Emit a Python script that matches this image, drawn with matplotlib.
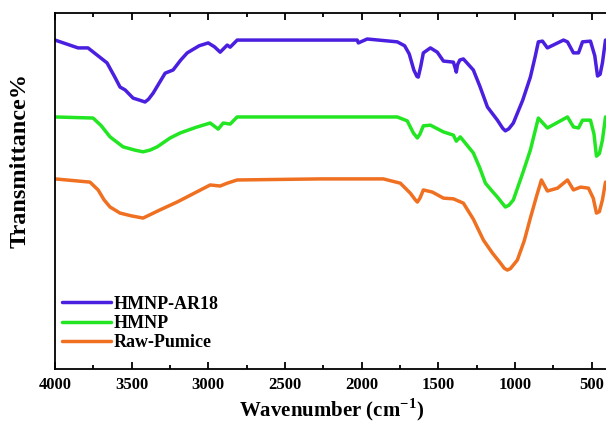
import matplotlib

matplotlib.use("Agg")
import matplotlib.pyplot as plt
from matplotlib.ticker import MultipleLocator

# FTIR spectra (wavenumber cm-1, transmittance in arbitrary %)
ar18_wn = [4000, 3850, 3785, 3726, 3661, 3610, 3576, 3543, 3491, 3440, 3413, 3390,
           3360, 3282, 3230, 3180, 3138, 3060, 3001, 2960, 2923, 2877, 2858, 2812,
           2401, 2029, 2022, 1964, 1768, 1720, 1690, 1660, 1640, 1631, 1615, 1598,
           1552, 1507, 1467, 1402, 1390, 1383, 1375, 1360, 1337, 1272, 1230, 1180,
           1115, 1080, 1063, 1040, 1011, 950, 900, 870, 848, 821, 789, 684, 658,
           619, 586, 560, 508, 480, 462, 445, 430, 410]
ar18_t = [92.4, 90.2, 90.2, 88.2, 86.0, 82.0, 79.2, 78.4, 76.1, 75.4, 75.0, 75.8,
          77.5, 83.1, 84.0, 86.8, 88.8, 90.8, 91.6, 90.5, 89.0, 91.0, 90.4, 92.4,
          92.4, 92.4, 91.6, 92.7, 91.9, 90.8, 88.5, 84.0, 82.2, 82.0, 85.0, 88.8,
          90.2, 89.0, 86.5, 86.2, 84.5, 83.4, 85.5, 86.8, 87.1, 84.0, 79.5, 73.6,
          69.9, 67.6, 66.9, 67.5, 69.1, 75.5, 82.0, 87.5, 91.9, 92.1, 90.2, 92.4,
          91.9, 88.8, 88.8, 91.9, 92.1, 88.0, 82.3, 82.8, 86.0, 92.4]

hmnp_wn = [4000, 3752, 3700, 3641, 3556, 3480, 3426, 3380, 3334, 3249, 3184, 3080,
           2988, 2936, 2903, 2858, 2812, 1768, 1703, 1663, 1637, 1620, 1598, 1552,
           1467, 1402, 1383, 1357, 1272, 1230, 1193, 1150, 1115, 1063, 1040, 1011,
           950, 900, 848, 789, 658, 619, 586, 560, 508, 485, 469, 450, 430, 410]
hmnp_t = [70.8, 70.5, 68.4, 65.2, 62.4, 61.5, 61.0, 61.5, 62.4, 64.9, 66.3, 67.9,
          69.1, 67.4, 69.1, 68.8, 70.8, 70.8, 69.7, 66.3, 64.9, 66.0, 68.3, 68.5,
          66.6, 65.7, 64.0, 65.2, 60.7, 56.5, 52.2, 50.0, 48.3, 45.5, 46.0, 47.5,
          55.0, 61.5, 70.5, 67.7, 70.8, 68.0, 67.7, 69.9, 69.9, 66.0, 59.8, 60.5,
          64.3, 70.8]

raw_wn = [4000, 3772, 3719, 3680, 3641, 3576, 3500, 3426, 3315, 3204, 2988, 2923,
          2877, 2812, 2270, 1859, 1748, 1683, 1650, 1637, 1620, 1598, 1539, 1467,
          1402, 1337, 1272, 1206, 1148, 1096, 1070, 1050, 1030, 985, 940, 900, 860,
          828, 789, 723, 658, 619, 573, 521, 490, 469, 450, 430, 410]
raw_t = [53.4, 52.5, 50.3, 47.5, 45.5, 43.8, 43.0, 42.4, 44.7, 46.9, 51.7, 51.4,
         52.2, 53.1, 53.4, 53.4, 52.2, 49.4, 47.5, 46.9, 48.0, 50.3, 49.7, 48.0,
         47.8, 46.6, 42.1, 36.2, 32.6, 29.8, 28.3, 27.8, 28.2, 30.6, 36.0, 42.4,
         48.5, 53.1, 50.0, 50.8, 53.1, 50.3, 51.1, 50.8, 48.0, 43.8, 44.2, 47.5,
         52.5]

labels = ["HMNP-AR18", "HMNP", "Raw-Pumice"]
colors = ["#4a1fe0", "#22e622", "#f07022"]


def main() -> None:
    plt.rcParams["font.family"] = ["Liberation Serif", "DejaVu Serif"]
    plt.rcParams["font.weight"] = "bold"
    plt.rcParams["mathtext.fontset"] = "custom"
    plt.rcParams["mathtext.rm"] = "Liberation Serif:bold"
    plt.rcParams["mathtext.bf"] = "Liberation Serif:bold"

    fig = plt.figure(figsize=(6.06, 4.24), dpi=100)
    ax = fig.add_axes([0.0908, 0.1297, 0.9109, 0.8396])

    series = [(ar18_wn, ar18_t), (hmnp_wn, hmnp_t), (raw_wn, raw_t)]
    for (wn, t), lab, col in zip(series, labels, colors):
        ax.plot(wn, t, color=col, lw=2.5, label=lab, solid_joinstyle="round",
                solid_capstyle="round")

    ax.set_xlim(4000, 400)
    ax.set_ylim(0, 100)
    ax.xaxis.set_major_locator(MultipleLocator(500))
    ax.xaxis.set_minor_locator(MultipleLocator(250))
    ax.tick_params(axis="x", which="both", direction="in", top=True, labelsize=12,
                   width=1.3, pad=6)
    ax.tick_params(axis="x", which="major", length=5)
    ax.tick_params(axis="x", which="minor", length=3)
    ax.set_yticks([])
    for side in ("left", "bottom", "top"):
        ax.spines[side].set_linewidth(1.3)
    ax.spines["right"].set_visible(False)

    ax.set_xlabel("Wavenumber (cm$^{\\mathbf{-1}}$)", fontsize=15, fontweight="bold",
                  labelpad=2)
    ax.set_ylabel("Transmittance%", fontsize=17.5, fontweight="bold")
    ax.yaxis.set_label_coords(-0.045, 0.587)

    ax.legend(loc="lower left", bbox_to_anchor=(-0.01, 0.015), frameon=False,
              prop={"size": 13, "weight": "bold"}, handlelength=2.7,
              handletextpad=0.15, labelspacing=0.12, borderaxespad=0.3)

    fig.savefig("out.png", dpi=100)
    plt.close(fig)


if __name__ == "__main__":
    main()
